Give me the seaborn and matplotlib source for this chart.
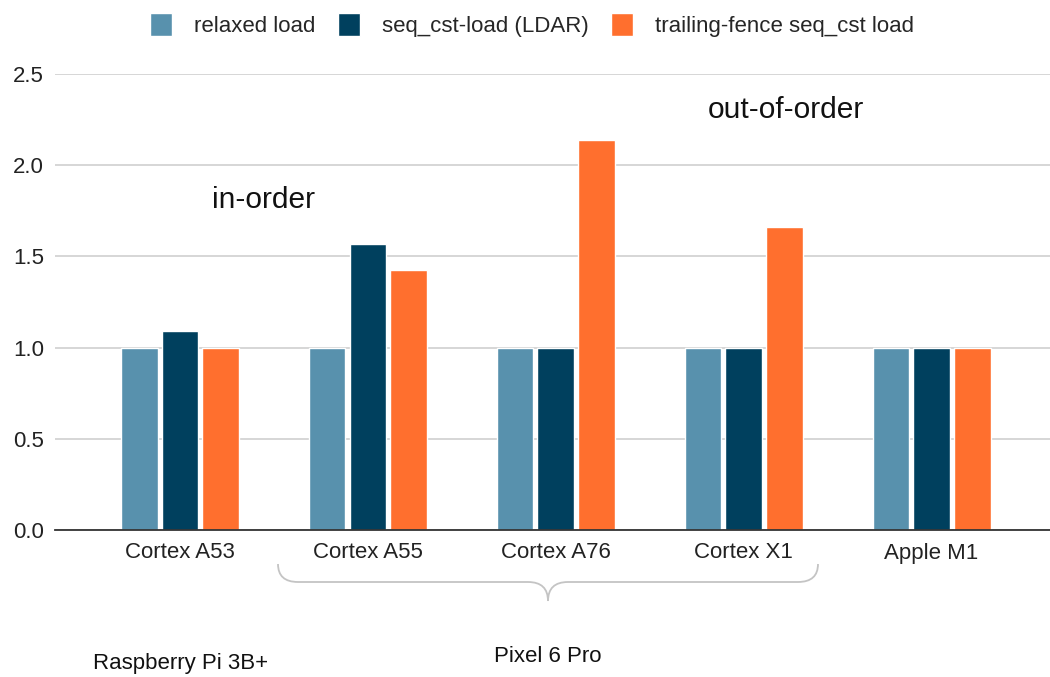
import matplotlib
matplotlib.use("Agg")
import matplotlib.pyplot as plt
import seaborn as sns
import pandas as pd
from matplotlib.path import Path
from matplotlib.patches import PathPatch, Patch

cores = ["Cortex A53", "Cortex A55", "Cortex A76", "Cortex X1", "Apple M1"]
series = ["relaxed load", "seq_cst-load (LDAR)", "trailing-fence seq_cst load"]
relaxed = [1.0, 1.0, 1.0, 1.0, 1.0]
ldar = [1.09, 1.57, 1.0, 1.0, 1.0]
fence = [1.0, 1.425, 2.14, 1.66, 1.0]
colors = ["#5891AD", "#00405E", "#FF6F2E"]
yticks = [0.0, 0.5, 1.0, 1.5, 2.0, 2.5]

rows = []
for vals, s in zip([relaxed, ldar, fence], series):
    for c, v in zip(cores, vals):
        rows.append({"core": c, "series": s, "value": v})
df = pd.DataFrame(rows)

sns.set_theme(style="white")
plt.rcParams["font.family"] = ["Liberation Sans", "DejaVu Sans"]

fig = plt.figure(figsize=(10.5, 6.77), dpi=100)
ax = fig.add_axes([55/1050, 1-530/677, 995/1050, (530-74)/677])
sns.barplot(data=df, x="core", y="value", hue="series", palette=colors,
            width=0.65, gap=0.1, ax=ax, legend=False, saturation=1)

ax.set_ylim(0, 2.5)
ax.set_xlim(-0.665, 4.63)
ax.set_yticks(yticks)
ax.set_yticklabels([f"{t:.1f}" for t in yticks], fontsize=16, color="#222222")
ax.set_xlabel("")
ax.set_ylabel("")
ax.tick_params(axis="x", labelsize=16, colors="#222222", length=0, pad=9)
ax.tick_params(axis="y", length=0, pad=8)
ax.yaxis.grid(True, color="#d3d3d3", linewidth=1.3)
ax.set_axisbelow(True)
for sp in ["top", "right", "left"]:
    ax.spines[sp].set_visible(False)
ax.spines["bottom"].set_color("#333333")
ax.spines["bottom"].set_linewidth(1.3)
ax.spines["bottom"].set_zorder(5)

# annotations
fig.text(263/1050, 1-200/677, "in-order", fontsize=21.5, ha="center", va="center", color="#111111")
fig.text(786/1050, 1-110/677, "out-of-order", fontsize=21.5, ha="center", va="center", color="#111111")
fig.text(181/1050, 1-664/677, "Raspberry Pi 3B+", fontsize=16, ha="center", va="center", color="#111111")
fig.text(548/1050, 1-656/677, "Pixel 6 Pro", fontsize=16, ha="center", va="center", color="#111111")

# bracket (in pixel coords converted to figure fraction)
def P(x, y):
    return (x/1050, 1-y/677)
verts = [P(278, 564), P(278, 582), P(298, 582), P(298, 582),
         P(528, 582), P(548, 582), P(548, 601),
         P(548, 582), P(568, 582),
         P(798, 582), P(818, 582), P(818, 564)]
codes = [Path.MOVETO, Path.CURVE3, Path.CURVE3, Path.LINETO,
         Path.LINETO, Path.CURVE3, Path.CURVE3,
         Path.CURVE3, Path.CURVE3,
         Path.LINETO, Path.CURVE3, Path.CURVE3]
fig.patches.append(PathPatch(Path(verts, codes), transform=fig.transFigure,
                             fill=False, edgecolor="#c4c4c4", linewidth=1.3))

handles = [Patch(facecolor=c, label=s) for c, s in zip(colors, series)]
fig.legend(handles=handles, loc="center", bbox_to_anchor=(532/1050, 1-25/677),
           ncol=3, frameon=False, fontsize=16, handlelength=1.0, handleheight=1.2,
           columnspacing=1.0, handletextpad=1.0)

fig.savefig("out.png", dpi=100)
